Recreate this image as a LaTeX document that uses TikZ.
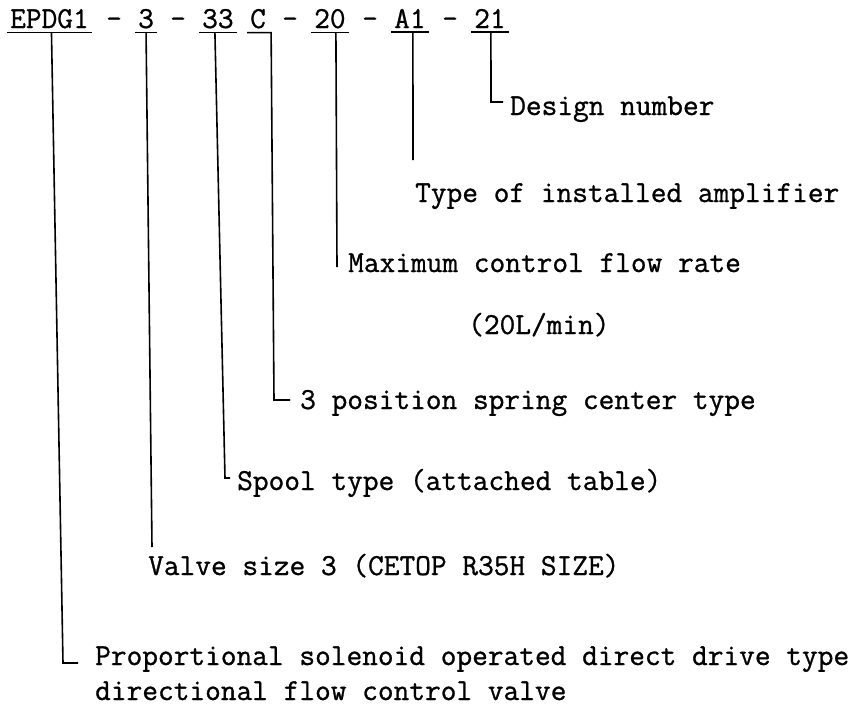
\documentclass[tikz,border=0pt]{standalone}
\usepackage{fontspec}
\newfontfamily\platefont[FakeBold=0.9]{Latin Modern Mono}
\begin{document}
\begin{tikzpicture}[x=1pt, y=-1pt,
    font=\platefont\fontsize{30.5pt}{36pt}\selectfont,
    code/.style={anchor=base west, inner xsep=3pt, inner ysep=4pt},
    lab/.style={anchor=base west, inner xsep=0pt, inner ysep=2pt},
    uline/.style={line width=1.8pt},
    lead/.style={line width=1.6pt},
    tick/.style={lead, shorten >=7pt}]
  \useasboundingbox (0,0) rectangle (865,718);
  \node[code] (code-type)   at (7,28)   {EPDG1};
  \node[code] (dash1)       at (103,28) {-};
  \node[code] (code-size)   at (135,28) {3};
  \node[code] (dash2)       at (167,28) {-};
  \node[code] (code-spool)  at (199,28) {33};
  \node[code] (code-center) at (247,28) {C};
  \node[code] (dash3)       at (279,28) {-};
  \node[code] (code-flow)   at (311,28) {20};
  \node[code] (dash4)       at (359,28) {-};
  \node[code] (code-amp)    at (391,28) {A1};
  \node[code] (dash5)       at (439,28) {-};
  \node[code] (code-design) at (471,28) {21};

  \node[lab] (lab-design) at (510,115) {Design number};
  \node[lab] (lab-amp)    at (415,202) {Type of installed amplifier};
  \node[lab] (lab-flow)   at (348,272) {Maximum control flow rate};
  \node[lab] (lab-flow2)  at (468,334) {(20L/min)};
  \node[lab] (lab-center) at (300,409) {3 position spring center type};
  \node[lab] (lab-spool)  at (237,490) {Spool type (attached table)};
  \node[lab] (lab-size)   at (148,575) {Valve size 3 (CETOP R35H SIZE)};
  \node[lab] (lab-type)   at (95,665)  {Proportional solenoid operated direct drive type};
  \node[lab] (lab-type2)  at (95,700)  {directional flow control valve};

  \coordinate (k-design) at (491,102);
  \coordinate (k-amp)    at (413,160);
  \coordinate (k-flow)   at (337,267);
  \coordinate (k-center) at (274,400);
  \coordinate (k-spool)  at (225,478);
  \coordinate (k-size)   at (152,547);
  \coordinate (k-type)   at (63,663);

  \draw[uline] (code-type.south west) -- (code-type.south east);
  \draw[uline] (code-size.south west) -- (code-size.south east);
  \draw[uline] (code-spool.south west) -- (code-spool.south east);
  \draw[uline] (code-flow.south west) -- (code-flow.south east);
  \draw[uline] (code-amp.south west) -- (code-amp.south east);
  \draw[uline] (code-design.south west) -- (code-design.south east);

  \draw[tick] ([xshift=1pt]code-design.south) -- (k-design) -- (k-design -| lab-design.west);
  \draw[lead] ([xshift=3pt]code-amp.south) -- (k-amp);
  \draw[lead] ([xshift=6pt]code-flow.south) -- (k-flow);
  \draw[tick, shorten >=10pt] (code-center.south west) -- (code-center.south east)
    -- ([xshift=2pt]code-center.south east) -- (k-center) -- (k-center -| lab-center.west);
  \draw[tick] ([xshift=-3pt]code-spool.south) -- (k-spool) -- (k-spool -| lab-spool.west);
  \draw[lead] (code-size.south) -- (k-size);
  \draw[tick, shorten >=17pt] ([xshift=2pt]code-type.south) -- (k-type) -- (k-type -| lab-type.west);
\end{tikzpicture}
\end{document}
